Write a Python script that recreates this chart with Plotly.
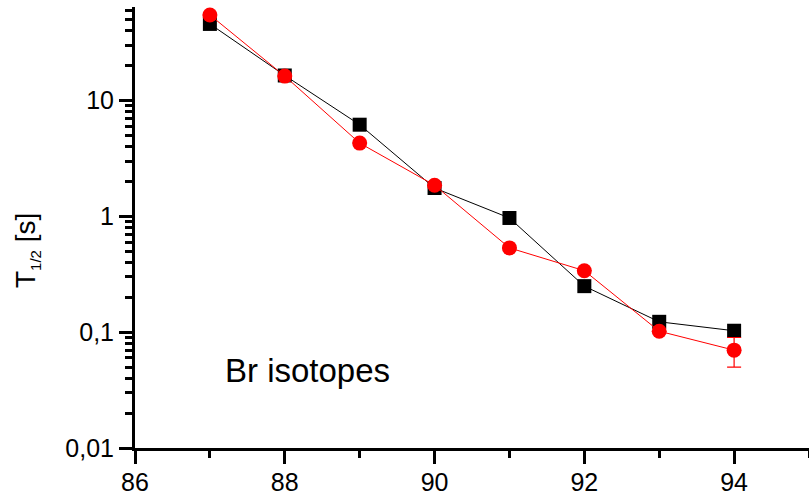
import plotly.graph_objects as go
import numpy as np

# Mass number of the bromine isotopes
mass_number = [87, 88, 89, 90, 91, 92, 93, 94]

# Half-lives in seconds: measured (squares) and calculated (circles)
t_half_black = [46, 16.5, 6.2, 1.76, 0.97, 0.25, 0.123, 0.103]
t_half_red = [55, 16.3, 4.3, 1.86, 0.535, 0.34, 0.102, 0.070]
t_half_red_err = [0, 0, 0, 0, 0, 0, 0, 0.02]

y_tick_vals = [0.01, 0.1, 1, 10]
y_tick_text = ["0,01", "0,1", "1", "10"]
x_tick_vals = [86, 88, 90, 92, 94]

FONT = "Arial, Liberation Sans, sans-serif"

fig = go.Figure()

fig.add_trace(go.Scatter(
    x=mass_number, y=t_half_black, mode="lines+markers",
    line=dict(color="black", width=1),
    marker=dict(symbol="square", size=14, color="black"),
    showlegend=False,
))

fig.add_trace(go.Scatter(
    x=mass_number, y=t_half_red, mode="lines+markers",
    line=dict(color="#ff0000", width=1),
    marker=dict(symbol="circle", size=15, color="#ff0000"),
    error_y=dict(type="data", array=t_half_red_err, visible=True,
                 color="#ff0000", thickness=1.2, width=7),
    showlegend=False,
))

fig.add_annotation(
    x=88.31, y=np.log10(0.0463), xref="x", yref="y",
    text="Br isotopes", showarrow=False,
    font=dict(family=FONT, size=33, color="black"),
    xanchor="center", yanchor="middle",
)

fig.add_annotation(
    x=-0.160, y=0.447, xref="paper", yref="paper",
    text="T<sub><span style='font-size:15px'>1/2</span></sub> [s]",
    textangle=-90, showarrow=False,
    font=dict(family=FONT, size=28, color="black"),
    xanchor="center", yanchor="middle",
)

fig.update_xaxes(
    range=[86, 95],
    tickvals=x_tick_vals,
    ticks="outside", ticklen=13, tickwidth=2.5, tickcolor="black",
    minor=dict(ticks="outside", ticklen=7, tickwidth=2.5, tickcolor="black", dtick=1),
    showline=True, linecolor="black", linewidth=3,
    showgrid=False, zeroline=False,
    ticklabelstandoff=-3,
    tickfont=dict(family=FONT, size=25, color="black"),
)

fig.update_yaxes(
    type="log",
    range=[-2, 1.809],
    tickvals=y_tick_vals, ticktext=y_tick_text,
    ticks="outside", ticklen=13, tickwidth=2.5, tickcolor="black",
    minor=dict(ticks="outside", ticklen=7, tickwidth=2.5, tickcolor="black", dtick="D1"),
    showline=True, linecolor="black", linewidth=3,
    showgrid=False, zeroline=False,
    tickfont=dict(family=FONT, size=25, color="black"),
)

fig.update_layout(
    width=809, height=497,
    margin=dict(l=135, r=0, t=7, b=49),
    paper_bgcolor="white", plot_bgcolor="white",
)

fig.write_html("out.html")
